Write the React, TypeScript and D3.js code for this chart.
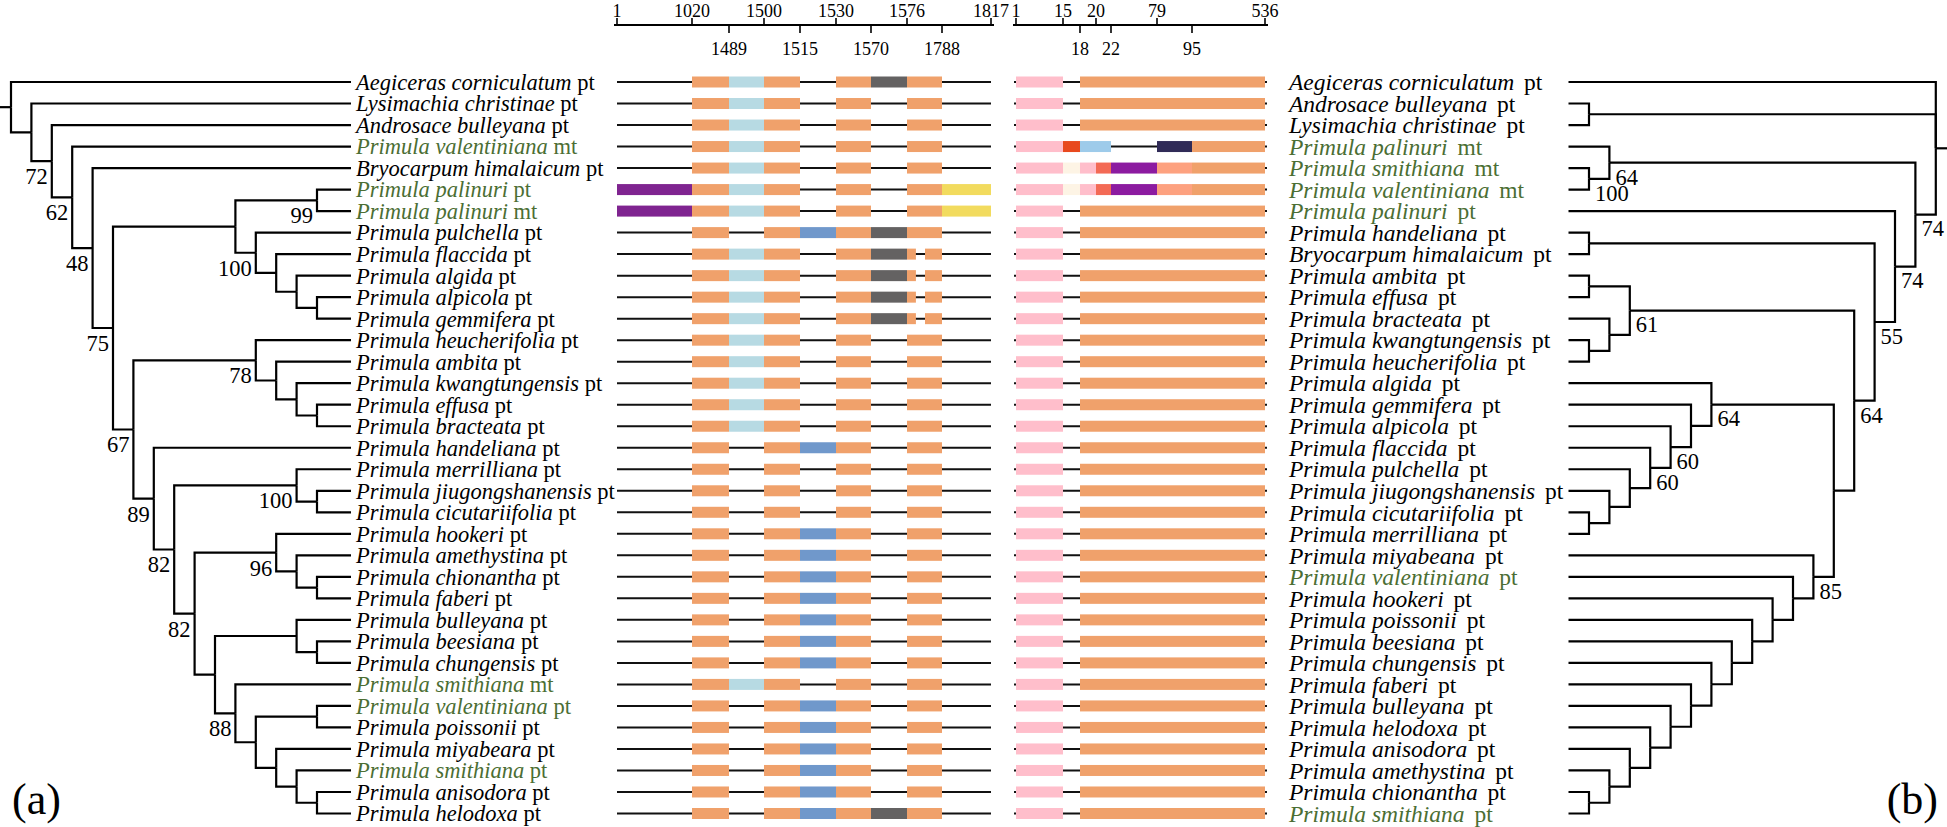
import React from "react";
import * as d3 from "d3";

const W = 1947;
const H = 827;

// ---------- data ----------
const leftTaxa = [
  "Aegiceras corniculatum pt", "Lysimachia christinae pt", "Androsace bulleyana pt",
  "Primula valentiniana mt", "Bryocarpum himalaicum pt", "Primula palinuri pt",
  "Primula palinuri mt", "Primula pulchella pt", "Primula flaccida pt", "Primula algida pt",
  "Primula alpicola pt", "Primula gemmifera pt", "Primula heucherifolia pt", "Primula ambita pt",
  "Primula kwangtungensis pt", "Primula effusa pt", "Primula bracteata pt", "Primula handeliana pt",
  "Primula merrilliana pt", "Primula jiugongshanensis pt", "Primula cicutariifolia pt",
  "Primula hookeri pt", "Primula amethystina pt", "Primula chionantha pt", "Primula faberi pt",
  "Primula bulleyana pt", "Primula beesiana pt", "Primula chungensis pt", "Primula smithiana mt",
  "Primula valentiniana pt", "Primula poissonii pt", "Primula miyabeara pt", "Primula smithiana pt",
  "Primula anisodora pt", "Primula helodoxa pt",
];

const rightTaxa = [
  "Aegiceras corniculatum pt", "Androsace bulleyana pt", "Lysimachia christinae pt",
  "Primula palinuri mt", "Primula smithiana mt", "Primula valentiniana mt", "Primula palinuri pt",
  "Primula handeliana pt", "Bryocarpum himalaicum pt", "Primula ambita pt", "Primula effusa pt",
  "Primula bracteata pt", "Primula kwangtungensis pt", "Primula heucherifolia pt", "Primula algida pt",
  "Primula gemmifera pt", "Primula alpicola pt", "Primula flaccida pt", "Primula pulchella pt",
  "Primula jiugongshanensis pt", "Primula cicutariifolia pt", "Primula merrilliana pt",
  "Primula miyabeana pt", "Primula valentiniana pt", "Primula hookeri pt", "Primula poissonii pt",
  "Primula beesiana pt", "Primula chungensis pt", "Primula faberi pt", "Primula bulleyana pt",
  "Primula helodoxa pt", "Primula anisodora pt", "Primula amethystina pt", "Primula chionantha pt",
  "Primula smithiana pt",
];

const highlighted = ["Primula palinuri", "Primula valentiniana", "Primula smithiana"];

// left tree (leaf numbers = row index in leftTaxa, internal labels = bootstrap)
const cladeF = "((5,6)99,(7,(8,(9,(10,11))))100)";
const cladeM = "(12,(13,(14,(15,16))))78";
const cladeS = "(18,(19,20))100";
const cladeV = "(21,(22,(23,24)))96";
const cladeY = "((25,(26,27)),(28,((29,30),(31,(32,(33,34)))))88)";
const cladeU = "(" + cladeV + "," + cladeY + ")82";
const cladeQ = "(17,(" + cladeS + "," + cladeU + ")82)89";
const cladeE = "(" + cladeF + ",(" + cladeM + "," + cladeQ + ")67)75";
const leftNewick = "(0,(1,(2,(3,(4," + cladeE + ")48)62)72))";

// right tree (leaf numbers = row index in rightTaxa)
const rClade2 = "(3,(4,5)100)64";
const rClade3 = "((9,10),(11,(12,13)))61";
const rClade4 = "(17,(18,(19,(20,21))))60";
const rClade7 = "(14,(15,(16," + rClade4 + ")60))64";
const rClade12 = "(22,(23,(24,(25,(26,(27,(28,(29,(30,(31,(32,(33,34))))))))))))85";
const rClade14 = "(" + rClade3 + ",(" + rClade7 + "," + rClade12 + "))64";
const rightNewick = "(0,(1,2),(" + rClade2 + ",(6,((7,8)," + rClade14 + ")55)74)74)";

// gene structure, region 1 (positions 1..1817)
const axis1Top = [1, 1020, 1500, 1530, 1576, 1817];
const axis1Bottom = [1489, 1515, 1570, 1788];
const g1Patterns: Record<string, [number, number, string][]> = {
  A: [[1020, 1489, "orange"], [1489, 1500, "lightblue"], [1500, 1515, "orange"], [1530, 1570, "orange"], [1570, 1576, "gray"], [1576, 1788, "orange"]],
  B: [[1020, 1489, "orange"], [1489, 1500, "lightblue"], [1500, 1515, "orange"], [1530, 1570, "orange"], [1576, 1788, "orange"]],
  P: [[1, 1020, "purple"], [1020, 1489, "orange"], [1489, 1500, "lightblue"], [1500, 1515, "orange"], [1530, 1570, "orange"], [1576, 1788, "orange"], [1788, 1817, "yellow"]],
  U: [[1020, 1489, "orange"], [1500, 1515, "orange"], [1515, 1530, "blue"], [1530, 1570, "orange"], [1570, 1576, "gray"], [1576, 1788, "orange"]],
  F: [[1020, 1489, "orange"], [1489, 1500, "lightblue"], [1500, 1515, "orange"], [1530, 1570, "orange"], [1570, 1576, "gray"], [1576, 1630, "orange"], [1685, 1788, "orange"]],
  H: [[1020, 1489, "orange"], [1500, 1515, "orange"], [1515, 1530, "blue"], [1530, 1570, "orange"], [1576, 1788, "orange"]],
  M: [[1020, 1489, "orange"], [1500, 1515, "orange"], [1530, 1570, "orange"], [1576, 1788, "orange"]],
};
const g1Rows = "ABBBBPPUFFFFBBBBBHMMMHHHHHHHBHHHHHU";

// gene structure, region 2 (positions 1..536)
const axis2Top = [1, 15, 20, 79, 536];
const axis2Bottom = [18, 22, 95];
const g2Patterns: Record<string, [number, number, string][]> = {
  N: [[1, 15, "pink"], [18, 536, "orange"]],
  V: [[1, 15, "pink"], [15, 18, "red"], [18, 22, "sky"], [79, 95, "navy"], [95, 536, "orange"]],
  S: [[1, 15, "pink"], [15, 18, "cream"], [18, 20, "pink"], [20, 22, "tomato"], [22, 79, "violet"], [79, 95, "salmon"], [95, 536, "orange"]],
};
const g2Rows = "NNNVSS" + "N".repeat(29);

// ---------- styles / layout ----------
const COLORS: Record<string, string> = {
  orange: "#F0A16B", lightblue: "#B7DAE3", blue: "#7098CB", gray: "#646262", purple: "#7F2490",
  yellow: "#F2DB5E", pink: "#FFBECB", red: "#E8491E", sky: "#9ECBEA", navy: "#302B57",
  cream: "#FDF4E5", tomato: "#F36A55", violet: "#8C1BA0", salmon: "#FDA17F",
};
const GREEN = "#4B6E33";
const FONT = "'Liberation Serif', 'Times New Roman', serif";
const AX1_RANGE = [617, 692, 729, 764, 800, 836, 871, 907, 942, 991];
const AX2_RANGE = [1016, 1063, 1080, 1096, 1111, 1157, 1192, 1265];
const AXIS_Y = 25;
const BAR_H = 11;

type PNode = { name?: string; support?: string; children?: PNode[] };
function parseNewick(s: string): PNode {
  let i = 0;
  const readLabel = () => {
    let lab = "";
    while (i < s.length && /[0-9A-Za-z_.]/.test(s[i])) lab += s[i++];
    return lab;
  };
  function node(): PNode {
    if (s[i] === "(") {
      i++;
      const children: PNode[] = [node()];
      while (s[i] === ",") { i++; children.push(node()); }
      i++;
      const lab = readLabel();
      return { children, support: lab || undefined };
    }
    return { name: readLabel() };
  }
  return node();
}

// tips at tipX; internal node of height h at firstX + dir*(h-1)*unit
function layoutTree(nwk: string, tipX: number, firstX: number, unit: number, dir: number, rowY: (i: number) => number) {
  const root: any = d3.hierarchy(parseNewick(nwk), (d: PNode) => d.children);
  root.eachAfter((n: any) => {
    if (!n.children) {
      n.py = rowY(+n.data.name);
      n.px = tipX;
    } else {
      n.py = (n.children[0].py + n.children[n.children.length - 1].py) / 2;
      n.px = firstX + dir * (n.height - 1) * unit;
    }
  });
  return root;
}

function TaxonLabel({ text, x, y, extra, size }: { text: string; x: number; y: number; extra: number; size: number }) {
  const parts = text.split(" ");
  const suffix = parts.pop();
  const name = parts.join(" ");
  const fill = highlighted.includes(name) ? GREEN : "#000";
  return (
    <text x={x} y={y} dy="0.35em" fontSize={size} fill={fill} fontFamily={FONT}>
      <tspan fontStyle="italic">{name}</tspan>
      <tspan dx={extra}>{" " + suffix}</tspan>
    </text>
  );
}

function Tree({ root, side }: { root: any; side: "left" | "right" }) {
  const links = root.links();
  const stub = side === "left" ? [0, root.px] : [root.px, W];
  return (
    <g fill="none" stroke="#000" strokeWidth={2.2}>
      {links.map((l: any, k: number) => (
        <path key={k} d={`M${l.source.px},${l.source.py}V${l.target.py}H${l.target.px}`} strokeLinejoin="miter" />
      ))}
      <line x1={stub[0]} x2={stub[1]} y1={root.py} y2={root.py} />
      {root.descendants().filter((n: any) => n.data.support).map((n: any, k: number) => (
        <text key={"s" + k} x={side === "left" ? n.px - 4 : n.px + 6} y={n.py + (side === "left" ? 15 : 14)}
          dy="0.35em" textAnchor={side === "left" ? "end" : "start"} fontSize={22.5} fontFamily={FONT}
          fill="#000" stroke="none">{n.data.support}</text>
      ))}
    </g>
  );
}

function Axis({ scale, top, bottom }: { scale: any; top: number[]; bottom: number[] }) {
  const dom = scale.domain();
  const x0 = scale(dom[0]) - 3;
  const x1 = scale(dom[dom.length - 1]) + 3;
  return (
    <g stroke="#000" strokeWidth={2}>
      <line x1={x0} x2={x1} y1={AXIS_Y} y2={AXIS_Y} />
      {top.map((v) => (
        <g key={"t" + v}>
          <line x1={scale(v)} x2={scale(v)} y1={AXIS_Y} y2={AXIS_Y - 7} strokeWidth={1.6} />
          <text x={scale(v)} y={AXIS_Y - 8} textAnchor="middle" fontSize={18} fontFamily={FONT} stroke="none" fill="#000">{v}</text>
        </g>
      ))}
      {bottom.map((v) => (
        <g key={"b" + v}>
          <line x1={scale(v)} x2={scale(v)} y1={AXIS_Y} y2={AXIS_Y + 8} strokeWidth={1.6} />
          <text x={scale(v)} y={AXIS_Y + 30} textAnchor="middle" fontSize={18} fontFamily={FONT} stroke="none" fill="#000">{v}</text>
        </g>
      ))}
    </g>
  );
}

function GeneRows({ scale, rows, patterns, rowY, lineFrom, lineTo }: any) {
  return (
    <g>
      {rows.split("").map((p: string, i: number) => {
        const y = rowY(i);
        return (
          <g key={i}>
            <line x1={lineFrom} x2={lineTo} y1={y} y2={y} stroke="#111" strokeWidth={2} />
            {patterns[p].map(([a, b, c]: [number, number, string], k: number) => (
              <rect key={k} x={scale(a)} y={y - BAR_H / 2} width={scale(b) - scale(a)} height={BAR_H} fill={COLORS[c]} />
            ))}
          </g>
        );
      })}
    </g>
  );
}

export default function App() {
  const rowY = d3.scaleLinear().domain([0, 34]).range([82, 813.5]);
  const leftRoot = layoutTree(leftNewick, 351, 317, 20.4, -1, rowY);
  const rightRoot = layoutTree(rightNewick, 1568.5, 1589, 20.4, 1, rowY);

  const ax1Domain = [...axis1Top, ...axis1Bottom].sort((a, b) => a - b);
  const ax2Domain = [...axis2Top, ...axis2Bottom].sort((a, b) => a - b);
  const g1 = d3.scaleLinear().domain(ax1Domain).range(AX1_RANGE);
  const g2 = d3.scaleLinear().domain(ax2Domain).range(AX2_RANGE);

  return (
    <svg width={W} height={H} viewBox={`0 0 ${W} ${H}`}
      style={{ position: "absolute", left: 0, top: 0, background: "#fff" }}>
      <Axis scale={g1} top={axis1Top} bottom={axis1Bottom} />
      <Axis scale={g2} top={axis2Top} bottom={axis2Bottom} />

      <Tree root={leftRoot} side="left" />
      {leftTaxa.map((t, i) => (
        <TaxonLabel key={i} text={t} x={356} y={rowY(i)} extra={0} size={22.5} />
      ))}

      <GeneRows scale={g1} rows={g1Rows} patterns={g1Patterns} rowY={rowY} lineFrom={g1(1)} lineTo={g1(1817)} />
      <GeneRows scale={g2} rows={g2Rows} patterns={g2Patterns} rowY={rowY} lineFrom={g2(1) - 2} lineTo={g2(536) + 2} />

      {rightTaxa.map((t, i) => (
        <TaxonLabel key={i} text={t} x={1289} y={rowY(i)} extra={4} size={23.5} />
      ))}
      <Tree root={rightRoot} side="right" />

      <text x={12} y={814} fontSize={44} fontFamily={FONT}>(a)</text>
      <text x={1938} y={814} fontSize={44} fontFamily={FONT} textAnchor="end">(b)</text>
    </svg>
  );
}
